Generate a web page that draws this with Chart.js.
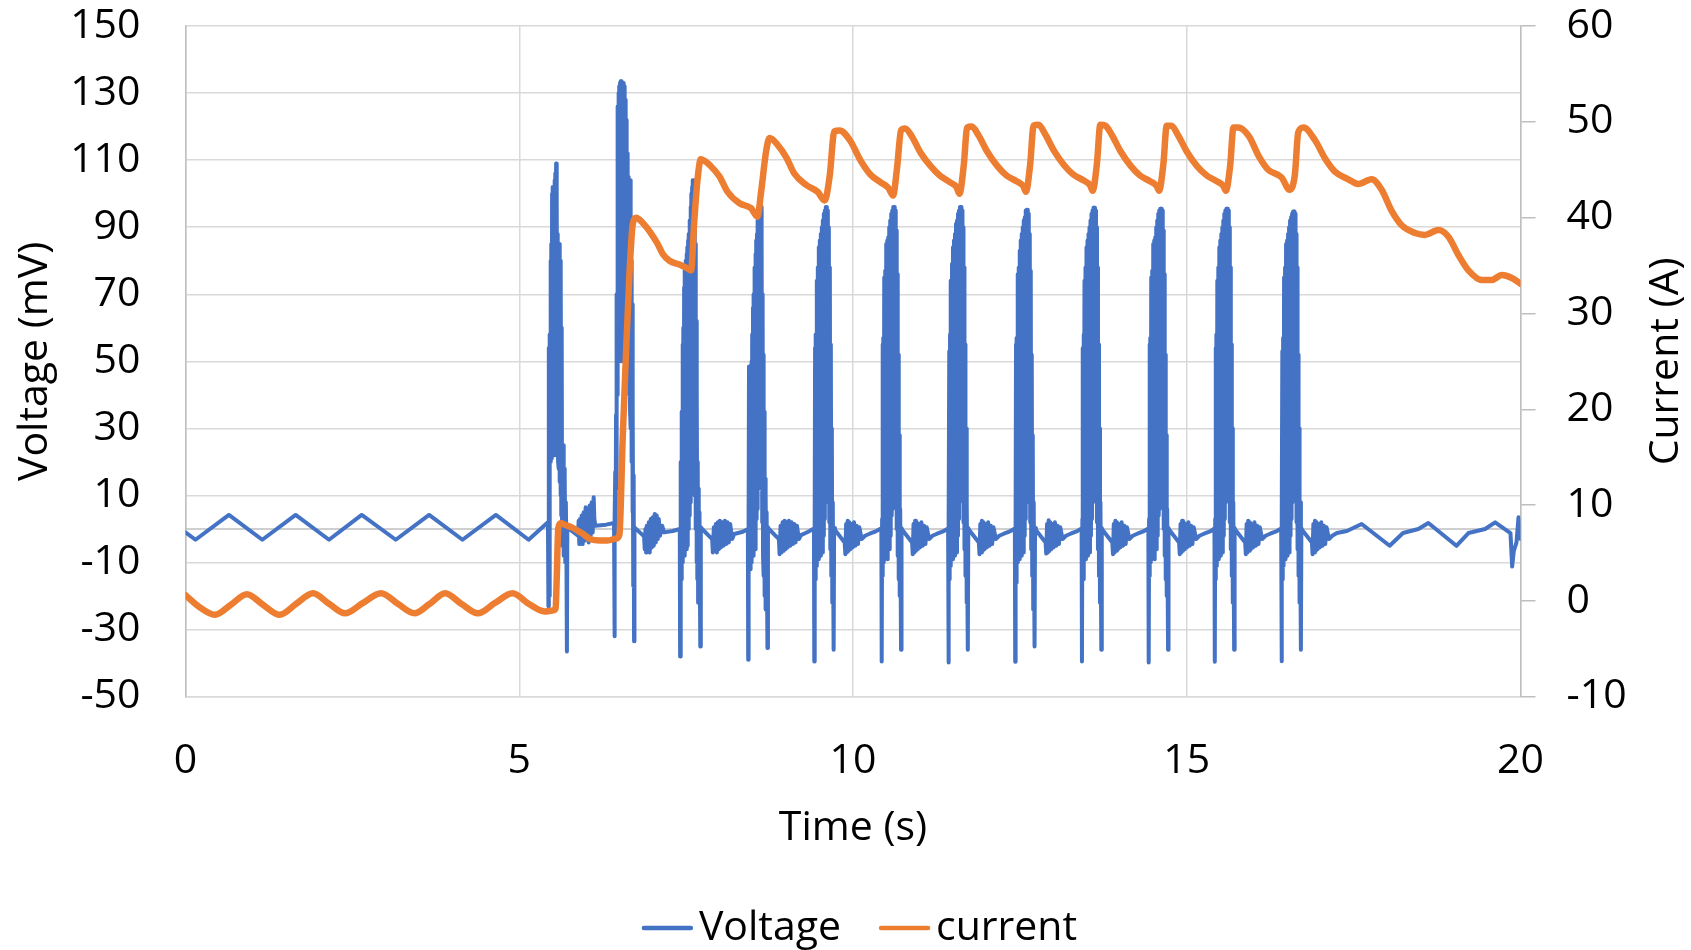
<!DOCTYPE html>
<html>
<head>
<meta charset="utf-8">
<title>Voltage and current</title>
<script src="https://cdn.jsdelivr.net/npm/chart.js@4.4.1/dist/chart.umd.min.js"></script>
<style>
  html, body { margin: 0; padding: 0; background: #fff; }
</style>
</head>
<body>
<canvas id="chart" width="1691" height="950"></canvas>
<script>
// Series names shown in the legend
const seriesLabels = ['Voltage', 'current'];

// Voltage trace, [time (s), mV], split into the resting part, each burst and the tail
const restVoltage = [[0,-1],[0.15,-3.2],[0.65,4.2],[1.15,-3.2],[1.65,4.2],[2.15,-3.2],[2.64,4.2],[3.15,-3.2],[3.65,4.2],[4.15,-3.2],[4.65,4.2],[5.14,-3.2],[5.43,2]];

const burst1 = [[5.437,-23],[5.443,54],[5.45,-20],[5.456,58],[5.462,20],[5.468,80],[5.474,22],[5.48,85],[5.486,21],[5.492,100],[5.498,22],[5.504,102],[5.51,24],[5.516,98],[5.522,22],[5.528,104],[5.534,25],[5.54,106],[5.546,28],[5.552,109],[5.558,30],[5.564,100],[5.57,24],[5.576,88],[5.582,20],[5.588,85],[5.594,18],[5.6,85],[5.606,14],[5.612,80],[5.618,10],[5.624,78],[5.63,4],[5.636,60],[5.642,-5],[5.648,25],[5.654,0],[5.66,25],[5.666,-8],[5.672,18],[5.678,-3],[5.684,16],[5.69,-10],[5.698,8],[5.706,-5],[5.714,-36.5],[5.72,0.5],
  [5.88,-2],[5.89,2.5],[5.9,-4.5],[5.91,3],[5.92,-4],[5.935,4],[5.95,-4.5],[5.965,5],[5.98,-3.5],[5.995,6.5],[6.01,-3],[6.025,6],[6.04,-4],[6.055,7],[6.07,-2],[6.085,8],[6.1,-1],[6.115,9.5],[6.125,3],[6.14,1],[6.3,1.3],[6.42,1.8]];

const burst2 = [[6.426,-32],[6.432,3],[6.438,17],[6.444,-3],[6.45,34],[6.456,12],[6.462,70],[6.468,40],[6.474,126],[6.48,52],[6.486,130],[6.492,50],[6.498,132],[6.504,52],[6.51,133],[6.516,50],[6.522,133.5],[6.528,54],[6.534,133.5],[6.54,52],[6.546,133],[6.552,50],[6.558,133],[6.564,52],[6.57,132],[6.576,50],[6.582,130],[6.588,50],[6.594,128],[6.6,46],[6.606,122],[6.612,44],[6.618,112],[6.624,43],[6.63,105],[6.636,43],[6.642,100],[6.648,40],[6.654,95],[6.66,35],[6.666,104],[6.672,30],[6.678,80],[6.684,20],[6.69,67],[6.696,5],[6.702,40],[6.708,-17],[6.714,16],[6.72,-33.5],[6.726,0.5],
  [6.87,-2.2],[6.88,-6],[6.89,0],[6.9,-7],[6.91,1],[6.925,-6.5],[6.94,2],[6.955,-7],[6.97,3],[6.985,-5.5],[7.0,3.5],[7.015,-5],[7.03,4.5],[7.045,-4],[7.06,4],[7.075,-3],[7.09,3],[7.11,-2],[7.14,1],[7.17,-1],[7.3,-0.6],[7.405,0]];

const burst3 = [[7.41,-38],[7.416,2],[7.422,20],[7.428,-15],[7.434,35],[7.44,-10],[7.446,55],[7.452,-8],[7.458,60],[7.464,-6],[7.47,72],[7.476,-8],[7.482,78],[7.488,-5],[7.494,80],[7.5,-6],[7.506,82],[7.512,-3],[7.518,84],[7.524,-5],[7.53,86],[7.536,0],[7.542,88],[7.548,4],[7.554,92],[7.56,8],[7.566,96],[7.572,12],[7.578,100],[7.584,20],[7.59,102],[7.596,30],[7.602,104],[7.608,40],[7.614,104],[7.62,25],[7.626,100],[7.632,10],[7.638,85],[7.644,0],[7.65,62],[7.656,-10],[7.662,42],[7.668,-15],[7.674,20],[7.68,-22],[7.686,12],[7.692,-10],[7.7,5],[7.712,-35],[7.72,0.5],
  [7.74,0],[7.89,-3],[7.9,-7],[7.915,0.5],[7.93,-6.5],[7.945,1.5],[7.96,-7],[7.975,2],[7.99,-6],[8.005,2.5],[8.02,-5.5],[8.04,2],[8.06,-5],[8.08,2.5],[8.1,-4.5],[8.12,2],[8.14,-4],[8.16,1.5],[8.19,-3],[8.22,-1.5],[8.35,-0.8],[8.425,0]];

const burst4 = [[8.43,-39],[8.436,2],[8.442,48.5],[8.448,-10],[8.454,25],[8.46,-12],[8.466,30],[8.472,-8],[8.478,50],[8.484,-10],[8.49,58],[8.496,-6],[8.502,66],[8.508,-8],[8.514,70],[8.52,-4],[8.526,78],[8.532,-6],[8.538,82],[8.544,0],[8.55,86],[8.556,3],[8.562,88],[8.568,6],[8.574,92],[8.58,12],[8.586,94],[8.592,25],[8.598,97],[8.604,40],[8.61,98],[8.616,30],[8.622,96],[8.628,12],[8.634,85],[8.64,2],[8.646,70],[8.652,-8],[8.658,52],[8.664,-14],[8.67,35],[8.676,-20],[8.682,15],[8.688,-24],[8.694,10],[8.7,-10],[8.706,5],[8.718,-35.5],[8.726,0.5],
  [8.74,0],[8.89,-3],[8.9,-7.5],[8.915,1],[8.93,-7],[8.945,2],[8.96,-6.5],[8.975,2.5],[8.99,-6],[9.005,2],[9.02,-5.5],[9.04,2.5],[9.06,-5],[9.08,2],[9.1,-4.5],[9.12,1.5],[9.14,-4],[9.16,1],[9.19,-3],[9.22,-1.8],[9.33,-0.8],[9.415,0.2]];

const burst5 = [[9.42,-39.5],[9.426,3],[9.432,54],[9.438,-15],[9.444,58],[9.45,-11],[9.458,74],[9.465,-8],[9.473,78],[9.48,-9],[9.488,84],[9.495,-6],[9.503,86],[9.51,-8],[9.518,88],[9.525,-4],[9.533,90],[9.54,-7],[9.548,92],[9.555,-2],[9.563,94],[9.57,3],[9.578,95],[9.585,8],[9.593,96],[9.6,25],[9.608,96],[9.615,45],[9.623,95],[9.63,15],[9.638,90],[9.645,2],[9.653,78],[9.66,-6],[9.668,55],[9.675,-14],[9.683,30],[9.69,-22],[9.697,8],[9.71,-36],[9.717,0.3],
  [9.73,-0.3],[9.875,-4],[9.885,-7.5],[9.897,1.5],[9.909,-7],[9.921,2.5],[9.933,-6.5],[9.945,2],[9.96,-6],[9.975,1.5],[9.995,-5.5],[10.015,2],[10.035,-5],[10.055,1],[10.075,-4.5],[10.095,0.5],[10.13,-3],[10.18,-2],[10.25,-1.4],[10.35,-0.6],[10.425,0.2]];

const burst6 = [[10.43,-39.5],[10.436,3],[10.442,55],[10.448,-14],[10.454,57],[10.46,-10],[10.468,75],[10.475,-9],[10.483,77],[10.49,-8],[10.498,85],[10.505,-7],[10.513,86],[10.52,-9],[10.528,87],[10.535,-3],[10.543,90],[10.55,-6],[10.558,92],[10.565,-2],[10.573,94],[10.58,4],[10.588,95],[10.595,6],[10.603,96],[10.61,22],[10.618,96],[10.625,40],[10.633,95],[10.64,12],[10.648,89],[10.655,0],[10.663,76],[10.67,-8],[10.678,52],[10.685,-15],[10.693,28],[10.7,-20],[10.707,6],[10.72,-36],[10.727,0.3],
  [10.74,-0.3],[10.885,-4],[10.895,-7.5],[10.907,1.5],[10.919,-7],[10.931,2.5],[10.943,-6.5],[10.955,2],[10.97,-6],[10.985,1.5],[11.005,-5.5],[11.025,2],[11.045,-5],[11.065,1],[11.085,-4.5],[11.105,0.5],[11.14,-3],[11.19,-2],[11.26,-1.4],[11.36,-0.6],[11.425,0.2]];

const burst7 = [[11.43,-39.8],[11.436,3],[11.442,53],[11.448,-15],[11.454,58],[11.46,-11],[11.468,74],[11.475,-8],[11.483,79],[11.49,-9],[11.498,84],[11.505,-6],[11.513,86],[11.52,-8],[11.528,88],[11.535,-4],[11.543,91],[11.55,-7],[11.558,92],[11.565,-2],[11.573,94],[11.58,3],[11.588,95],[11.595,8],[11.603,96],[11.61,25],[11.618,96],[11.625,45],[11.633,95],[11.64,15],[11.648,90],[11.655,2],[11.663,78],[11.67,-6],[11.678,55],[11.685,-14],[11.693,30],[11.7,-22],[11.707,8],[11.72,-36],[11.727,0.3],
  [11.74,-0.3],[11.885,-4],[11.895,-7.5],[11.907,1.5],[11.919,-7],[11.931,2.5],[11.943,-6.5],[11.955,2],[11.97,-6],[11.985,1.5],[12.005,-5.5],[12.025,2],[12.045,-5],[12.065,1],[12.085,-4.5],[12.105,0.5],[12.14,-3],[12.19,-2],[12.26,-1.4],[12.36,-0.6],[12.425,0.2]];

const burst8 = [[12.43,-39.6],[12.436,3],[12.442,55],[12.448,-16],[12.454,57],[12.46,-10],[12.468,76],[12.475,-8],[12.483,78],[12.49,-9],[12.498,83],[12.505,-6],[12.513,86],[12.52,-8],[12.528,88],[12.535,-4],[12.543,90],[12.55,-7],[12.558,92],[12.565,-2],[12.573,93],[12.58,3],[12.588,95],[12.595,8],[12.603,95.2],[12.61,25],[12.618,95.2],[12.625,48],[12.633,94],[12.64,15],[12.648,88],[12.655,2],[12.663,77],[12.67,-6],[12.678,52],[12.685,-14],[12.693,28],[12.7,-24],[12.707,8],[12.72,-35],[12.727,0.3],
  [12.74,-0.3],[12.885,-4],[12.895,-7.3],[12.907,1.5],[12.919,-7],[12.931,2.6],[12.943,-6.5],[12.955,2],[12.97,-6],[12.985,1.5],[13.005,-5.5],[13.025,2],[13.045,-5],[13.065,1],[13.085,-4.5],[13.105,0.5],[13.14,-3],[13.19,-2],[13.26,-1.4],[13.36,-0.6],[13.425,0.2]];

const burst9 = [[13.43,-39.5],[13.436,3],[13.442,54],[13.448,-15],[13.454,58],[13.46,-11],[13.468,74],[13.475,-8],[13.483,78],[13.49,-9],[13.498,84],[13.505,-6],[13.513,86],[13.52,-8],[13.528,88],[13.535,-4],[13.543,90],[13.55,-7],[13.558,92],[13.565,-2],[13.573,94],[13.58,3],[13.588,95],[13.595,8],[13.603,95.8],[13.61,25],[13.618,95.8],[13.625,45],[13.633,95],[13.64,15],[13.648,90],[13.655,2],[13.663,78],[13.67,-6],[13.678,55],[13.685,-14],[13.693,30],[13.7,-22],[13.707,8],[13.72,-36],[13.727,0.3],
  [13.74,-0.3],[13.885,-4],[13.895,-7.5],[13.907,1.5],[13.919,-7],[13.931,2.5],[13.943,-6.5],[13.955,2],[13.97,-6],[13.985,1.5],[14.005,-5.5],[14.025,2],[14.045,-5],[14.065,1],[14.085,-4.5],[14.105,0.5],[14.14,-3],[14.19,-2],[14.26,-1.4],[14.36,-0.6],[14.425,0.2]];

const burst10 = [[14.43,-39.8],[14.436,3],[14.442,55],[14.448,-14],[14.454,57],[14.46,-10],[14.468,75],[14.475,-9],[14.483,77],[14.49,-8],[14.498,85],[14.505,-7],[14.513,86],[14.52,-9],[14.528,87],[14.535,-3],[14.543,90],[14.55,-6],[14.558,92],[14.565,-2],[14.573,94],[14.58,4],[14.588,95],[14.595,6],[14.603,95.5],[14.61,22],[14.618,95.5],[14.625,40],[14.633,95],[14.64,12],[14.648,89],[14.655,0],[14.663,76],[14.67,-8],[14.678,52],[14.685,-15],[14.693,28],[14.7,-20],[14.707,6],[14.72,-36],[14.727,0.3],
  [14.74,-0.3],[14.885,-4],[14.895,-7.5],[14.907,1.5],[14.919,-7],[14.931,2.5],[14.943,-6.5],[14.955,2],[14.97,-6],[14.985,1.5],[15.005,-5.5],[15.025,2],[15.045,-5],[15.065,1],[15.085,-4.5],[15.105,0.5],[15.14,-3],[15.19,-2],[15.26,-1.4],[15.36,-0.6],[15.415,0.2]];

const burst11 = [[15.42,-39.6],[15.426,3],[15.432,54],[15.438,-15],[15.444,58],[15.45,-11],[15.458,74],[15.465,-8],[15.473,78],[15.48,-9],[15.488,84],[15.495,-6],[15.503,86],[15.51,-8],[15.518,88],[15.525,-4],[15.533,90],[15.54,-7],[15.548,92],[15.555,-2],[15.563,94],[15.57,3],[15.578,95],[15.585,8],[15.593,95.5],[15.6,25],[15.608,95.5],[15.615,45],[15.623,95],[15.63,15],[15.638,90],[15.645,2],[15.653,78],[15.66,-6],[15.668,55],[15.675,-14],[15.683,30],[15.69,-22],[15.697,8],[15.71,-36],[15.717,0.3],
  [15.73,-0.3],[15.875,-4],[15.885,-7.5],[15.897,1.5],[15.909,-7],[15.921,2.5],[15.933,-6.5],[15.945,2],[15.96,-6],[15.975,1.5],[15.995,-5.5],[16.015,2],[16.035,-5],[16.055,1],[16.075,-4.5],[16.095,0.5],[16.13,-3],[16.18,-2],[16.25,-1.4],[16.35,-0.6],[16.415,0.2]];

const burst12 = [[16.42,-39.4],[16.426,3],[16.432,53],[16.438,-15],[16.444,57],[16.45,-11],[16.458,75],[16.465,-8],[16.473,78],[16.48,-9],[16.488,85],[16.495,-6],[16.503,86],[16.51,-8],[16.518,88],[16.525,-4],[16.533,90],[16.54,-7],[16.548,92],[16.555,-2],[16.563,93],[16.57,3],[16.578,94],[16.585,8],[16.593,94.7],[16.6,25],[16.608,94.7],[16.615,45],[16.623,94],[16.63,15],[16.638,88],[16.645,2],[16.653,78],[16.66,-6],[16.668,52],[16.675,-14],[16.683,30],[16.69,-22],[16.697,8],[16.71,-36],[16.717,0.3],
  [16.73,-0.3],[16.875,-4],[16.885,-7.5],[16.897,1.5],[16.909,-7],[16.921,2.5],[16.933,-6.5],[16.945,2],[16.96,-6],[16.975,1.5],[16.995,-5.5],[17.015,2],[17.035,-5],[17.055,1],[17.075,-4.5],[17.095,0.5],[17.13,-3],[17.18,-2]];

const tailVoltage = [[17.25,-1.2],[17.4,-0.6],[17.62,1.5],[18.04,-5],[18.24,-1.2],[18.47,0],[18.62,1.8],[19.04,-5],[19.22,-1.2],[19.47,0],[19.62,2],[19.85,-1.2],[19.875,-11.2],[19.9,-6.5],[19.94,-4],[19.97,3.5],[20,-3]];

// Current trace, [time (s), A]
const restCurrent = [[0,0.6],[0.2,-0.6],[0.44,-1.45],[0.68,-0.4],[0.92,0.7],[1.16,-0.4],[1.41,-1.45],[1.66,-0.3],[1.91,0.8],[2.15,-0.3],[2.39,-1.3],[2.66,-0.2],[2.93,0.8],[3.18,-0.3],[3.43,-1.3],[3.66,-0.3],[3.89,0.8],[4.13,-0.3],[4.38,-1.3],[4.64,-0.2],[4.9,0.8],[5.14,-0.3],[5.38,-1.1],[5.5,-1.0],[5.545,-0.8]];

const rampCurrent = [[5.56,2],[5.585,7.6],[5.62,8.1],[5.7,7.9],[5.78,7.7],[5.93,7.1],[6.08,6.4],[6.2,6.3],[6.32,6.3],[6.45,6.5],[6.5,6.9],[6.55,17],[6.6,26],[6.65,34],[6.7,39.3],[6.75,40],[6.8,39.8],[6.87,39.3],[6.95,38.6],[7.07,37.3],[7.15,36.2],[7.25,35.5],[7.4,35.1],[7.52,34.7],[7.575,34.5],[7.62,39.4],[7.67,43.9],[7.72,46.1],[7.78,45.9],[7.85,45.5],[8.0,44.3],[8.12,42.7],[8.3,41.5],[8.47,41.0],[8.57,40.1],[8.62,42.5],[8.7,47],[8.75,48.3],[8.87,47.6],[9.0,46.3],[9.12,44.6],[9.3,43.4],[9.47,42.7],[9.575,41.8],[9.65,44.3],[9.72,49],[9.8,49.1]];

const pulseCurrent = [[9.96,48],[10.11,46],[10.26,44.5],[10.41,43.7],[10.53,43.1],[10.6,42.3],[10.66,45.2],[10.72,49.1],[10.78,49.3],[10.88,48.5],[11.01,46.8],[11.16,45.4],[11.3,44.4],[11.45,43.7],[11.55,43.2],[11.595,42.5],[11.66,45.5],[11.71,49.4],[11.78,49.5],[11.88,48.6],[12.01,46.9],[12.16,45.4],[12.3,44.4],[12.45,43.8],[12.55,43.3],[12.59,42.7],[12.655,45.6],[12.705,49.6],[12.78,49.7],[12.88,48.7],[13.01,47],[13.16,45.5],[13.3,44.5],[13.45,43.9],[13.55,43.4],[13.59,42.8],[13.655,45.7],[13.705,49.7],[13.78,49.6],[13.88,48.6],[14.01,46.9],[14.16,45.4],[14.3,44.4],[14.45,43.8],[14.55,43.3],[14.585,42.8],[14.65,45.6],[14.7,49.6],[14.77,49.6],[14.87,48.6],[15.0,46.9],[15.15,45.4],[15.3,44.4],[15.45,43.8],[15.55,43.3],[15.585,42.8],[15.65,45.4],[15.7,49.4],[15.77,49.4],[15.93,48.5],[16.08,46.4],[16.22,45],[16.42,44.2],[16.54,42.9],[16.62,44.5],[16.67,48.9],[16.75,49.4],[16.92,48.1]];

const tailCurrent = [[17.07,46.2],[17.22,44.8],[17.42,44],[17.57,43.5],[17.77,44],[17.92,42.9],[18.07,40.7],[18.22,39.2],[18.42,38.4],[18.57,38.2],[18.77,38.7],[18.92,38],[19.07,36.1],[19.22,34.5],[19.42,33.5],[19.57,33.5],[19.72,34],[19.87,33.7],[20,33.1]];

const toXY = (pairs) => pairs.map(([x, y]) => ({ x, y }));

const voltagePoints = toXY([restVoltage, burst1, burst2, burst3, burst4, burst5, burst6,
  burst7, burst8, burst9, burst10, burst11, burst12, tailVoltage].flat());
const currentPoints = toXY([restCurrent, rampCurrent, pulseCurrent, tailCurrent].flat());

const FONT = "'Open Sans', 'DejaVu Sans', sans-serif";
const FONT_SIZE = 41;
const GRID = '#D9D9D9';
const AXIS = '#BFBFBF';

Chart.defaults.font.family = FONT;
Chart.defaults.font.size = FONT_SIZE;
Chart.defaults.color = '#000';

// grey line where the time axis crosses 0 mV
const zeroLine = {
  id: 'zeroLine',
  beforeDatasetsDraw(chart) {
    const { ctx, chartArea } = chart;
    const y0 = chart.scales.y.getPixelForValue(0);
    ctx.save();
    ctx.strokeStyle = AXIS;
    ctx.lineWidth = 1.5;
    ctx.beginPath();
    ctx.moveTo(chartArea.left, y0);
    ctx.lineTo(chartArea.right, y0);
    ctx.stroke();
    ctx.restore();
  }
};

// right axis title reads bottom-to-top like the left one
const rightTitle = {
  id: 'rightTitle',
  afterDraw(chart) {
    const { ctx, chartArea } = chart;
    ctx.save();
    ctx.translate(1666, (chartArea.top + chartArea.bottom) / 2);
    ctx.rotate(-Math.PI / 2);
    ctx.font = FONT_SIZE + 'px ' + FONT;
    ctx.fillStyle = '#000';
    ctx.textAlign = 'center';
    ctx.textBaseline = 'middle';
    ctx.fillText('Current (A)', 0, 0);
    ctx.restore();
  }
};

// legend row under the axis title: short line then label
const legendRow = {
  id: 'legendRow',
  afterDraw(chart) {
    const { ctx } = chart;
    const y = 928, lineLen = 51, gap = 6, itemGap = 38;
    ctx.save();
    ctx.font = FONT_SIZE + 'px ' + FONT;
    const items = chart.data.datasets.map(ds => ({
      text: ds.label, color: ds.borderColor, w: ctx.measureText(ds.label).width
    }));
    const total = items.reduce((s, it) => s + lineLen + gap + it.w, 0) + itemGap * (items.length - 1);
    let x = 859.5 - total / 2;
    items.forEach(it => {
      ctx.strokeStyle = it.color;
      ctx.lineWidth = 4.5;
      ctx.lineCap = 'round';
      ctx.beginPath();
      ctx.moveTo(x + 2, y);
      ctx.lineTo(x + lineLen - 2, y);
      ctx.stroke();
      ctx.fillStyle = '#000';
      ctx.textAlign = 'left';
      ctx.textBaseline = 'middle';
      ctx.fillText(it.text, x + lineLen + gap, y);
      x += lineLen + gap + it.w + itemGap;
    });
    ctx.restore();
  }
};

// fixed box sizes so the plot area sits where it should
const fixVertical = (width) => (scale) => {
  scale.width = width;
  scale.paddingTop = 0;
  scale.paddingBottom = 0;
};

new Chart(document.getElementById('chart'), {
  type: 'line',
  data: {
    datasets: [
      {
        label: seriesLabels[0],
        data: voltagePoints,
        yAxisID: 'y',
        borderColor: '#4472C4',
        backgroundColor: '#4472C4',
        borderWidth: 4,
        borderJoinStyle: 'round',
        borderCapStyle: 'round',
        pointRadius: 0,
        tension: 0,
        order: 2
      },
      {
        label: seriesLabels[1],
        data: currentPoints,
        yAxisID: 'y1',
        borderColor: '#ED7D31',
        backgroundColor: '#ED7D31',
        borderWidth: 6.5,
        borderJoinStyle: 'round',
        borderCapStyle: 'round',
        pointRadius: 0,
        cubicInterpolationMode: 'monotone',
        order: 1
      }
    ]
  },
  options: {
    responsive: false,
    animation: false,
    layout: { padding: { top: 26, left: 0, right: 0, bottom: 0 } },
    plugins: {
      legend: { display: false },
      tooltip: { enabled: false }
    },
    scales: {
      x: {
        type: 'linear',
        min: 0,
        max: 20,
        ticks: { stepSize: 5, autoSkip: false, maxRotation: 0, padding: 40 },
        grid: { color: GRID, lineWidth: 1.5, drawTicks: false },
        border: { color: GRID, width: 1.5 },
        title: { display: true, text: 'Time (s)', padding: { top: 0, bottom: 97 } },
        afterFit: (scale) => {
          scale.height = 253.3;
          scale.paddingLeft = 0;
          scale.paddingRight = 0;
        }
      },
      y: {
        position: 'left',
        min: -50,
        max: 150,
        ticks: { stepSize: 20, autoSkip: false, padding: 45 },
        grid: { color: GRID, lineWidth: 1.5, drawTicks: false },
        border: { color: AXIS, width: 1.5 },
        title: { display: true, text: 'Voltage (mV)', padding: { top: 11, bottom: 0 } },
        afterFit: fixVertical(185.5)
      },
      y1: {
        position: 'right',
        min: -10,
        max: 60,
        ticks: { stepSize: 10, autoSkip: false, padding: 31 },
        grid: { drawOnChartArea: false, drawTicks: true, tickLength: 15, color: AXIS, lineWidth: 1.5 },
        border: { color: AXIS, width: 1.5 },
        afterFit: fixVertical(170.5)
      }
    }
  },
  plugins: [zeroLine, rightTitle, legendRow]
});
</script>
</body>
</html>
